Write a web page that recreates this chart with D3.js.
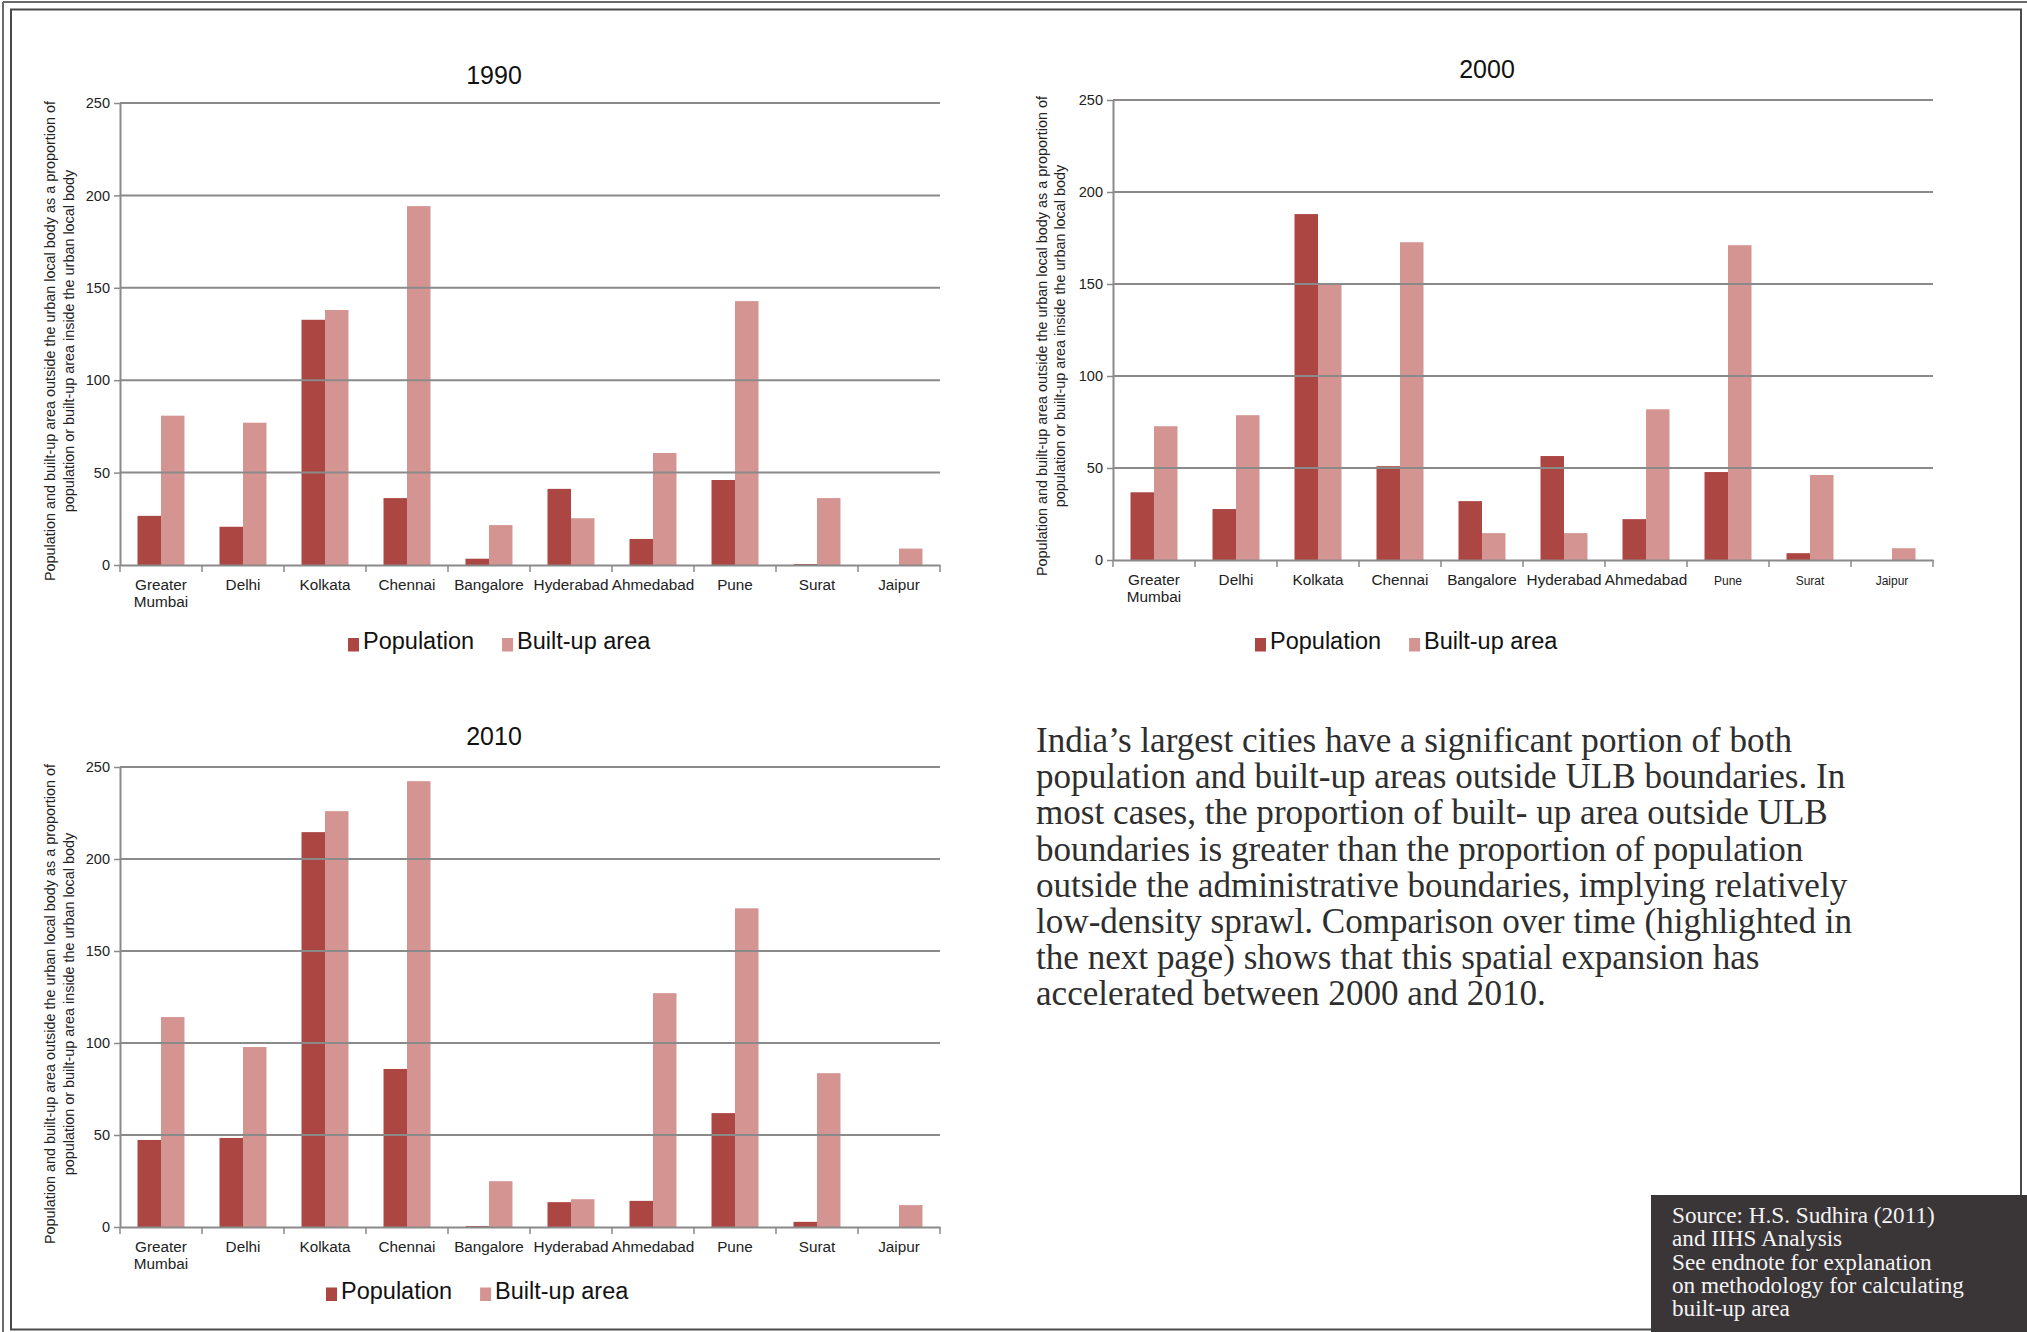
<!DOCTYPE html>
<html><head><meta charset="utf-8">
<script src="https://cdn.jsdelivr.net/npm/d3@7"></script>
<style>
html,body{margin:0;padding:0;background:#fff;}
svg{display:block;}
</style></head>
<body>
<svg id="chart" width="2027" height="1332"></svg>
<script>
// ---------------- DATA ----------------
const categories = ["Greater Mumbai","Delhi","Kolkata","Chennai","Bangalore","Hyderabad","Ahmedabad","Pune","Surat","Jaipur"];
const seriesNames = ["Population","Built-up area"];
const pop1990   = [26.6, 20.7, 132.7, 36.2, 3.4, 41.2, 14.1, 46.0, 0.5, 0];
const built1990 = [80.8, 77.0, 138.0, 194.2, 21.6, 25.3, 60.6, 142.8, 36.2, 8.9];
const pop2000   = [36.8, 27.7, 188.0, 51.0, 32.0, 56.5, 22.2, 47.8, 3.7, 0];
const built2000 = [72.7, 78.7, 150.5, 172.7, 14.6, 14.6, 81.9, 171.1, 46.2, 6.4];
const pop2010   = [47.3, 48.4, 214.6, 85.9, 0.5, 13.5, 14.2, 61.9, 2.8, 0];
const built2010 = [114.1, 97.8, 226.0, 242.3, 24.9, 15.1, 127.1, 173.2, 83.6, 11.9];
const yTicks = [0, 50, 100, 150, 200, 250];
const yTitleLines = ["Population and built-up area outside the urban local body as a proportion of",
                     "population or built-up area inside the urban local body"];
const paragraphLines = [
  "India\u2019s largest cities have a significant portion of both",
  "population and built-up areas outside ULB boundaries. In",
  "most cases, the proportion of built- up area outside ULB",
  "boundaries is greater than the proportion of population",
  "outside the administrative boundaries, implying relatively",
  "low-density sprawl. Comparison over time (highlighted in",
  "the next page) shows that this spatial expansion has",
  "accelerated between 2000 and 2010."
];
const sourceLines = [
  "Source: H.S. Sudhira (2011)",
  "and IIHS Analysis",
  "See endnote for explanation",
  "on methodology for calculating",
  "built-up area"
];

// ---------------- STYLE ----------------
const COL_POP = "#AB4643";
const COL_BUILT = "#D49491";
const GRID = "#8a8a8a";
const SANS = "'Liberation Sans', Arial, sans-serif";
const SERIF = "'Liberation Serif', 'Times New Roman', serif";

const svg = d3.select("#chart");

// frames
svg.append("line").attr("x1",3).attr("x2",2027).attr("y1",2).attr("y2",2)
  .attr("stroke","#6a6a6a").attr("stroke-width",2);
svg.append("line").attr("x1",3).attr("x2",3).attr("y1",2).attr("y2",1332)
  .attr("stroke","#6a6a6a").attr("stroke-width",2);
svg.append("rect").attr("x",11).attr("y",9.5).attr("width",2010).attr("height",1320)
  .attr("fill","none").attr("stroke","#4a4a4a").attr("stroke-width",2);

function fitFont(sel, size, target) {
  sel.attr("font-size", size);
  const w = sel.node().getComputedTextLength();
  const s = size * target / w;
  sel.attr("font-size", s);
  return s;
}

const charts = [
  {title:"1990", pop:pop1990, built:built1990, x0:120, x1:940, yb:565, yt:103,
   titleX:494, titleY:84, legX:348, legY:649, ytX:55, ytGap:19, ytShift:7, small:[]},
  {title:"2000", pop:pop2000, built:built2000, x0:1113, x1:1933, yb:560, yt:100,
   titleX:1487, titleY:78, legX:1255, legY:649, ytX:1047, ytGap:18, ytShift:6, small:["Pune","Surat","Jaipur"]},
  {title:"2010", pop:pop2010, built:built2010, x0:120, x1:940, yb:1227, yt:767,
   titleX:494, titleY:745, legX:326, legY:1298.5, ytX:55, ytGap:19, ytShift:7, small:[]}
];

charts.forEach(c => {
  const g = svg.append("g");
  const x = d3.scaleBand().domain(categories).range([c.x0, c.x1])
    .paddingInner(0.427).paddingOuter(0.2135);
  const xs = d3.scaleBand().domain(seriesNames).range([0, x.bandwidth()]).padding(0);
  const y = d3.scaleLinear().domain([0, 250]).range([c.yb, c.yt]);

  // bars
  const rows = categories.map((cat, i) => ({cat, vals:[{s:seriesNames[0], v:c.pop[i]}, {s:seriesNames[1], v:c.built[i]}]}));
  const grp = g.selectAll("g.cat").data(rows).join("g").attr("class","cat")
    .attr("transform", d => `translate(${x(d.cat)},0)`);
  grp.selectAll("rect").data(d => d.vals).join("rect")
    .attr("x", d => xs(d.s))
    .attr("width", xs.bandwidth())
    .attr("y", d => y(d.v))
    .attr("height", d => y(0) - y(d.v))
    .attr("fill", d => d.s === seriesNames[0] ? COL_POP : COL_BUILT);

  // gridlines (drawn over the bars, as in the reference)
  g.selectAll("line.grid").data(yTicks.filter(t => t > 0)).join("line")
    .attr("class","grid")
    .attr("x1", c.x0).attr("x2", c.x1)
    .attr("y1", d => y(d)).attr("y2", d => y(d))
    .attr("stroke", GRID).attr("stroke-width", 2);

  // y axis
  const ya = g.append("g").attr("transform", `translate(${c.x0},0)`)
    .call(d3.axisLeft(y).tickValues(yTicks).tickSize(6).tickSizeOuter(0).tickPadding(4));
  ya.select(".domain").attr("stroke", GRID).attr("stroke-width", 2);
  ya.selectAll(".tick line").attr("stroke", GRID).attr("stroke-width", 1.5);
  ya.selectAll("text").attr("font-family", SANS).attr("font-size", 14.5).attr("fill", "#222");

  // x axis line + labels
  const xa = g.append("g").attr("transform", `translate(0,${c.yb})`)
    .call(d3.axisBottom(x).tickSize(0).tickSizeOuter(0).tickPadding(14));
  xa.select(".domain").attr("stroke", GRID).attr("stroke-width", 2);
  xa.selectAll(".tick text").each(function(d) {
    const t = d3.select(this);
    const isSmall = c.small.includes(d);
    t.text(null).attr("font-family", SANS).attr("font-size", isSmall ? 12 : 15.3).attr("fill", "#222")
      .attr("dy", isSmall ? "0.95em" : "0.71em");
    const parts = d.indexOf(" ") > 0 ? d.split(" ") : [d];
    parts.forEach((p, k) => t.append("tspan").attr("x", 0).attr("dy", k === 0 ? null : "1.14em").text(p));
  });
  // category boundary tick marks
  const bounds = d3.range(categories.length + 1).map(i => x.range()[0] + i * x.step());
  g.selectAll("line.xtick").data(bounds).join("line").attr("class","xtick")
    .attr("x1", d => d).attr("x2", d => d)
    .attr("y1", c.yb).attr("y2", c.yb + 7)
    .attr("stroke", GRID).attr("stroke-width", 1.5);

  // title
  g.append("text").attr("x", c.titleX).attr("y", c.titleY).attr("text-anchor","middle")
    .attr("font-family", SANS).attr("font-size", 25).attr("fill", "#111").text(c.title);

  // y title
  const yc = (c.yb + c.yt) / 2 + c.ytShift;
  const yt = g.append("g").attr("transform", `translate(${c.ytX},${yc}) rotate(-90)`);
  yTitleLines.forEach((line, k) => {
    yt.append("text").attr("x", 0).attr("y", k * c.ytGap).attr("text-anchor","middle")
      .attr("font-family", SANS).attr("font-size", 14.4).attr("fill", "#222").text(line);
  });

  // legend
  const lg = g.append("g").attr("transform", `translate(${c.legX},${c.legY})`);
  let cx = 0;
  seriesNames.forEach((s, k) => {
    lg.append("rect").attr("x", cx).attr("y", -11).attr("width", 11).attr("height", 13.5)
      .attr("fill", k === 0 ? COL_POP : COL_BUILT);
    const t = lg.append("text").attr("x", cx + 15).attr("y", 0)
      .attr("font-family", SANS).attr("font-size", 23.5).attr("fill", "#111").text(s);
    cx += 15 + t.node().getComputedTextLength() + 28;
  });
});

// paragraph
const para = svg.append("g");
const paraLines = para.selectAll("text").data(paragraphLines).join("text")
  .attr("x", 1036).attr("y", (d, i) => 752 + i * 36.2)
  .attr("font-family", SERIF).attr("fill", "#2e2e2e").text(d => d);
const pSize = fitFont(d3.select(paraLines.nodes()[0]), 30, 756);
paraLines.attr("font-size", pSize);

// source box
svg.append("rect").attr("x", 1651).attr("y", 1195).attr("width", 376).attr("height", 137).attr("fill", "#3a3537");
const srcLines = svg.append("g").selectAll("text").data(sourceLines).join("text")
  .attr("x", 1672).attr("y", (d, i) => 1223 + i * 23.3)
  .attr("font-family", SERIF).attr("fill", "#f4f4f4").text(d => d);
const sSize = fitFont(d3.select(srcLines.nodes()[3]), 22, 292);
srcLines.attr("font-size", sSize);
</script>
</body></html>
